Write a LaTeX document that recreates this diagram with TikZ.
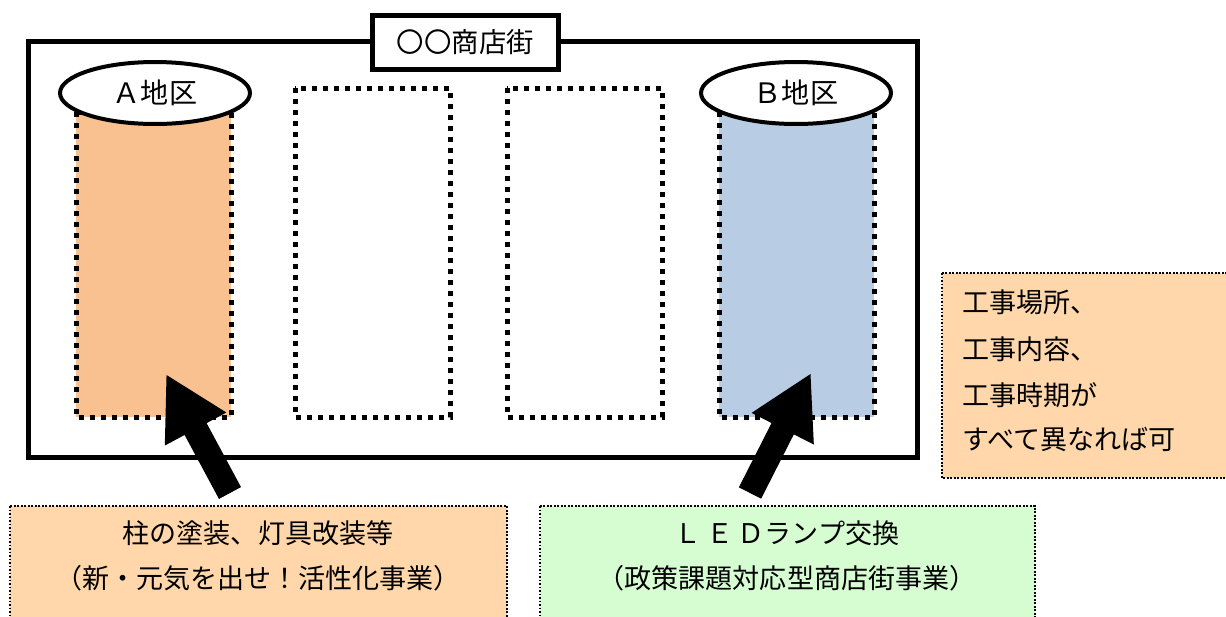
\documentclass[tikz,border=0pt]{standalone}
\usepackage{fontspec}
\setmainfont{Noto Sans CJK JP}
\usetikzlibrary{arrows.meta,shapes.geometric}
\definecolor{colA}{HTML}{F9C090}
\definecolor{colB}{HTML}{B8CCE4}
\definecolor{noteorange}{HTML}{FFD7AA}
\definecolor{notegreen}{HTML}{D6FDD2}
\tikzset{
  px/.style={x=0.02cm,y=-0.02cm},
  frame/.style={draw=black,line width=0.1cm},
  column/.style={draw=black,line width=0.1cm,dash pattern=on 0.1cm off 0.12cm},
  note/.style={draw=black,line width=0.035cm,dash pattern=on 0.035cm off 0.035cm},
  label/.style={ellipse,draw=black,fill=white,line width=0.08cm,minimum width=3.8cm,minimum height=1.24cm,inner sep=0pt,font=\fontsize{16pt}{18pt}\selectfont},
  bigarrow/.style={line width=0.5cm,-{Triangle[length=1.25cm,width=1.3cm]}},
  txt/.style={font=\fontsize{15.4pt}{18pt}\selectfont,inner sep=0pt}
}
\begin{document}
\begin{tikzpicture}[px]
\useasboundingbox (0,0) rectangle (1226,616);
\clip (0,0) rectangle (1226,616);
% outer frame
\draw[frame] (28,41) rectangle (917,457);
% columns
\draw[column,fill=colA] (76,112) rectangle (231,417);
\draw[column,fill=white] (295,88) rectangle (450,417);
\draw[column,fill=white] (507,88) rectangle (662,417);
\draw[column,fill=colB] (719,112) rectangle (874,417);
% title
\node[frame,fill=white,minimum width=3.74cm,minimum height=1.1cm,inner sep=0pt,font=\fontsize{15.6pt}{18pt}\selectfont] (title) at (465.5,42.5) {〇〇商店街};
% labels
\node[label] (lA) at (155,93) {Ａ地区};
\node[label] (lB) at (796,93) {Ｂ地区};
% notes
\draw[note,fill=noteorange] (942,273) rectangle (1240,478);
\node[txt,anchor=west] (n1) at (962,302) {工事場所、};
\node[txt,anchor=west] (n2) at (962,349) {工事内容、};
\node[txt,anchor=west] (n3) at (962,395) {工事時期が};
\node[txt,anchor=west] (n4) at (962,439) {すべて異なれば可};
\draw[note,fill=noteorange] (10,506) rectangle (507,640);
\node[txt] (bA1) at (258,533) {柱の塗装、灯具改装等};
\node[txt] (bA2) at (258,578) {（新・元気を出せ！活性化事業）};
\draw[note,fill=notegreen] (540,506) rectangle (1035,640);
\node[txt] (bB1) at (787,533) {Ｌ\,Ｅ\,Ｄランプ交換};
\node[txt] (bB2) at (787,578) {（政策課題対応型商店街事業）};
% arrows
\coordinate (aS) at (230,493);
\coordinate (aT) at (166,374);
\coordinate (bS) at (750,493);
\coordinate (bT) at (811,373);
\draw[bigarrow] (aS) -- (aT);
\draw[bigarrow] (bS) -- (bT);
\end{tikzpicture}
\end{document}
